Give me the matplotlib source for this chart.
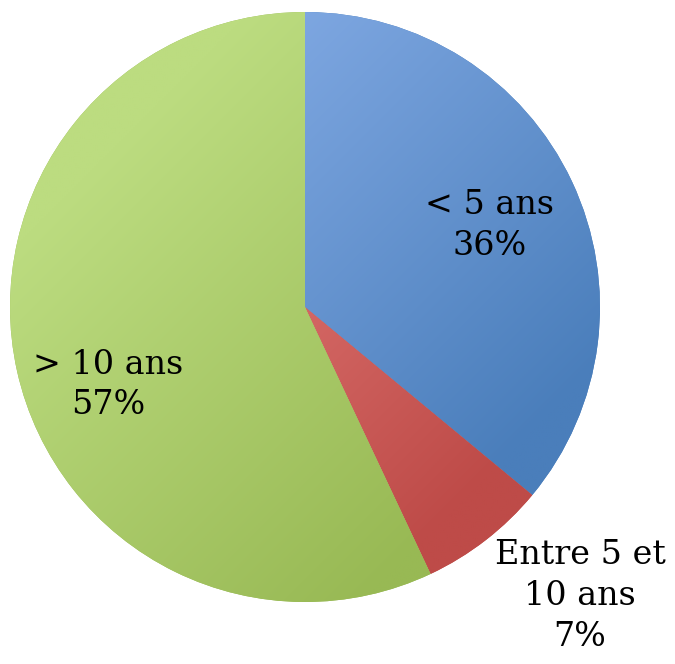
import numpy as np
import matplotlib
matplotlib.use('Agg')
import matplotlib.pyplot as plt
from matplotlib.colors import LinearSegmentedColormap

labels = ['< 5 ans', 'Entre 5 et\n10 ans', '> 10 ans']
values = [36, 7, 57]
light = ['#82aae4', '#e8827f', '#bcdc80']
dark = ['#4a7ebb', '#be4b48', '#98b954']

fig = plt.figure(figsize=(6.75, 6.64), dpi=100)
# pie centre at (305, 307) px, radius 295 px
ax = fig.add_axes([10 / 675, (664 - 307 - 295) / 664, 590 / 675, 590 / 664])
wedges, _ = ax.pie(values, startangle=90, counterclock=False, radius=1,
                   colors=dark, wedgeprops=dict(linewidth=0))
ax.set_xlim(-1, 1)
ax.set_ylim(-1, 1)
ax.set_aspect('equal')
ax.axis('off')

# gradient fill, light top-left to dark bottom-right
yy, xx = np.mgrid[1:-1:300j, -1:1:300j]
grad = (xx - yy + 2) / 4
for w, c1, c2 in zip(wedges, light, dark):
    cmap = LinearSegmentedColormap.from_list('g', [c1, c2])
    im = ax.imshow(grad, cmap=cmap, extent=(-1, 1, -1, 1), zorder=2,
                   interpolation='bilinear', vmin=0.2, vmax=0.8)
    im.set_clip_path(w)

font = dict(family=['DejaVu Serif'], fontsize=24, ha='center', va='center',
            linespacing=1.35, zorder=5)
ax.text(0.627, 0.275, '< 5 ans\n36%', **font)
ax.text(0.932, -0.98, 'Entre 5 et\n10 ans\n7%', clip_on=False, **font)
ax.text(-0.668, -0.264, '> 10 ans\n57%', **font)

plt.savefig('out.png', dpi=100)
